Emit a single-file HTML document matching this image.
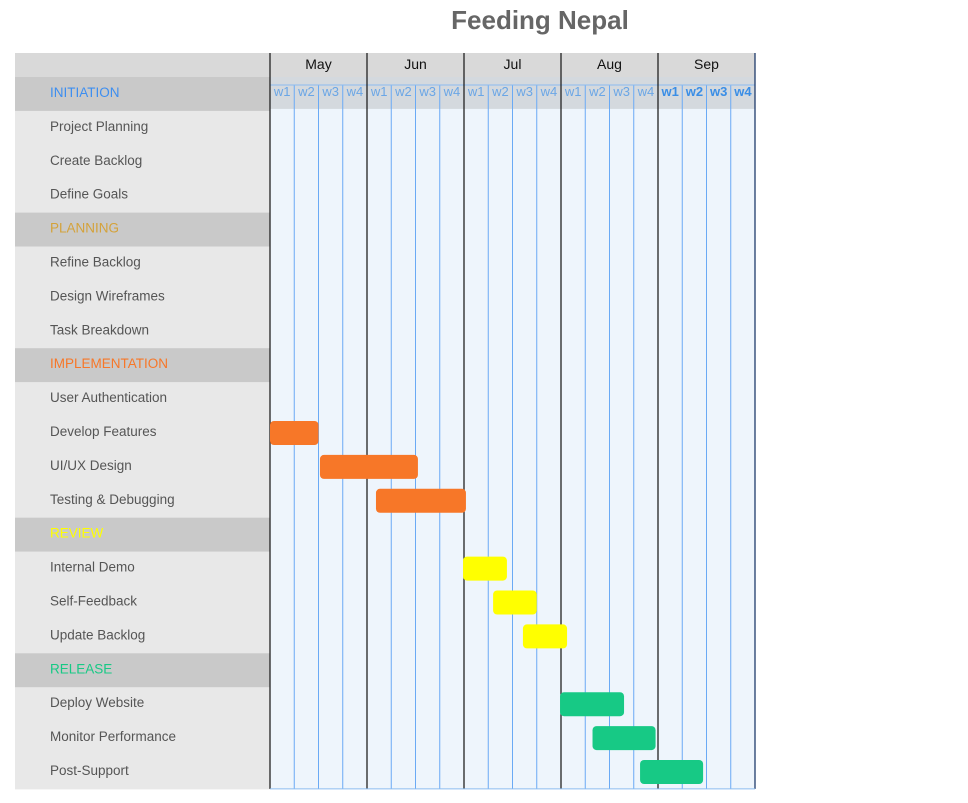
<!DOCTYPE html>
<html><head><meta charset="utf-8"><style>
body{margin:0;background:#fff;width:968px;height:798px;overflow:hidden;font-family:"Liberation Sans","DejaVu Sans",sans-serif}
</style></head><body>
<svg id="chart" width="968" height="798" xmlns="http://www.w3.org/2000/svg">
<text x="540" y="29" text-anchor="middle" font-size="26" font-weight="bold" fill="#666">Feeding Nepal</text>
</svg>
<script>
const rowLabels=["INITIATION","Project Planning","Create Backlog","Define Goals","PLANNING","Refine Backlog","Design Wireframes","Task Breakdown","IMPLEMENTATION","User Authentication","Develop Features","UI/UX Design","Testing & Debugging","REVIEW","Internal Demo","Self-Feedback","Update Backlog","RELEASE","Deploy Website","Monitor Performance","Post-Support"];
const categoryColors={"INITIATION":"#3d8ef0","PLANNING":"#d4a23a","IMPLEMENTATION":"#f77728","REVIEW":"#ffff00","RELEASE":"#17c985"};
const months=["May","Jun","Jul","Aug","Sep"];
const weekLabels=["w1","w2","w3","w4"];
const taskNames=["Develop Features","UI/UX Design","Testing & Debugging","Internal Demo","Self-Feedback","Update Backlog","Deploy Website","Monitor Performance","Post-Support"];
const taskStart=[0,2.06,4.37,7.96,9.2,10.43,11.96,13.3,15.26];
const taskEnd=[2,6.1,8.08,9.77,11.0,12.25,14.6,15.9,17.86];
const taskColor=["#f77728","#f77728","#f77728","#ffff00","#ffff00","#ffff00","#17c985","#17c985","#17c985"];

const svg=document.getElementById('chart');
const NS="http://www.w3.org/2000/svg";
const X0=270,X1=755,Y0=77,RH=33.9,LEFT=15;
const nWeeks=months.length*4;
const xs=w=>X0+(X1-X0)*w/nWeeks;
const ys=i=>Y0+RH*i;
function mk(tag,attrs,parent){const e=document.createElementNS(NS,tag);for(const k in attrs)e.setAttribute(k,attrs[k]);(parent||svg).appendChild(e);return e;}

let hb=mk('rect',{x:LEFT,y:53,width:X1-LEFT,height:24,fill:'#d9d9d9'});


let bg=mk('rect',{x:X0,y:Y0,width:X1-X0,height:ys(rowLabels.length)-Y0,fill:'#eef5fc'});


rowLabels.forEach((r,i)=>{
  const isCat=categoryColors[r]!==undefined;
  const rc=mk('rect',{x:LEFT,y:ys(i),width:X0-LEFT,height:RH+0.5,fill:isCat?'#c9c9c9':'#e8e8e8'});
  
  
  const t=mk('text',{x:50,y:ys(i)+RH/2+3,'font-size':13.5,fill:isCat?categoryColors[r]:'#555'});
  t.textContent=r;
  
  
});
let wb=mk('rect',{x:X0,y:Y0,width:X1-X0,height:RH-2,fill:'#d4d9de'});


for(let w=0;w<nWeeks;w++){
  const x=xs(w);
  if(w%4!==0){
    const l=mk('line',{x1:x,x2:x,y1:Y0+8,y2:ys(rowLabels.length),stroke:'#6aaaf5','stroke-width':1});
    
    
  }
  const t=mk('text',{x:xs(w+0.5),y:Y0+19,'text-anchor':'middle','font-size':13,fill:w>=16?'#3a8ee6':'#6aa6e6','font-weight':w>=16?'bold':'normal'});
  t.textContent=weekLabels[w%4];
  
  
}
let hl=mk('line',{x1:X0,x2:X1,y1:Y0+8,y2:Y0+8,stroke:'#8bbcf0','stroke-width':1});


months.forEach((m,i)=>{
  const t=mk('text',{x:xs(i*4+2),y:69,'text-anchor':'middle','font-size':14,fill:'#111'});
  t.textContent=m;
  
  
});
for(let i=0;i<=months.length;i++){
  const x=xs(i*4);
  const l=mk('line',{x1:x,x2:x,y1:53,y2:ys(rowLabels.length),stroke:i===months.length?'#1f3b6b':'#222','stroke-width':1.3});
  
  
}
let bl=mk('line',{x1:X0,x2:X1,y1:ys(rowLabels.length),y2:ys(rowLabels.length),stroke:'#8bbcf0','stroke-width':1});


taskNames.forEach((n,i)=>{
  const ri=rowLabels.indexOf(n);
  const b=mk('rect',{x:xs(taskStart[i]),y:ys(ri)+5,width:xs(taskEnd[i])-xs(taskStart[i]),height:24,rx:4,fill:taskColor[i]});
  
  
});
</script>
</body></html>
